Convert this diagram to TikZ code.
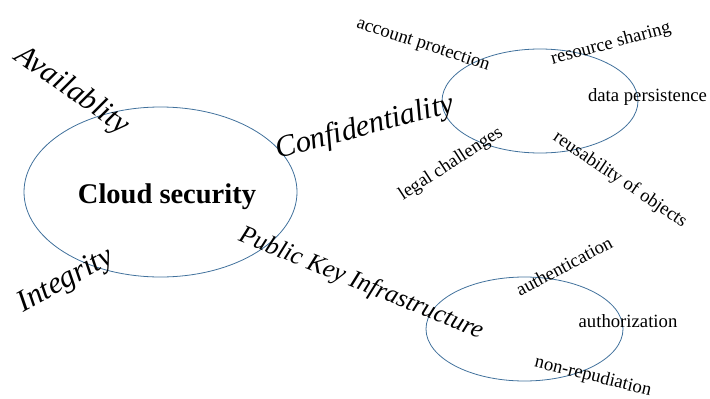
\documentclass[tikz,border=0pt]{standalone}
\usepackage{fontspec}
\setmainfont{Liberation Serif}
\usetikzlibrary{shapes.geometric}
\definecolor{outline}{HTML}{41719C}
\tikzset{
  bubble/.style={draw=outline, line width=0.8pt, ellipse, inner sep=0pt},
  topic/.style={font=\fontsize{30.5}{36}\selectfont\itshape, inner sep=0pt},
  detail/.style={font=\fontsize{18.7}{22}\selectfont, inner sep=0pt},
}
\begin{document}
\begin{tikzpicture}[x=1pt, y=-1pt]
  \useasboundingbox (0,0) rectangle (710,399);

  % three ellipses
  \node[bubble, minimum width=273pt, minimum height=170pt] (cloud) at (160.5,192) {};
  \node[bubble, minimum width=196pt, minimum height=104pt] (conf) at (540,101) {};
  \node[bubble, minimum width=197pt, minimum height=104pt] (pki) at (524.5,329) {};

  % centre title
  \node[font=\fontsize{28.5}{34}\selectfont\bfseries, inner sep=0pt] (title) at (167,197) {Cloud security};

  % security goals
  \node[topic, rotate=-35] (avail) at (72,91) {Availablity};
  \node[topic, rotate=15] (confl) at (365,128) {Confidentiality};
  \node[topic, rotate=29] (integ) at (66,281) {Integrity};
  \node[topic, font=\fontsize{25.5}{30}\selectfont\itshape, rotate=-22] (pkil) at (361,284) {Public Key Infrastructure};

  % confidentiality topics
  \node[detail, rotate=-18] (acct) at (423,45) {account protection};
  \node[detail, rotate=15] (share) at (611,44) {resource sharing};
  \node[detail] (persist) at (647.5,97) {data persistence};
  \node[detail, rotate=33] (legal) at (451,164) {legal challenges};
  \node[detail, rotate=-34] (reuse) at (620,180) {reusability of objects};

  % PKI topics
  \node[detail, rotate=28] (authn) at (564,266) {authentication};
  \node[detail] (authz) at (628,321) {authorization};
  \node[detail, rotate=-14] (nonrep) at (593,377) {non-repudiation};
\end{tikzpicture}
\end{document}
